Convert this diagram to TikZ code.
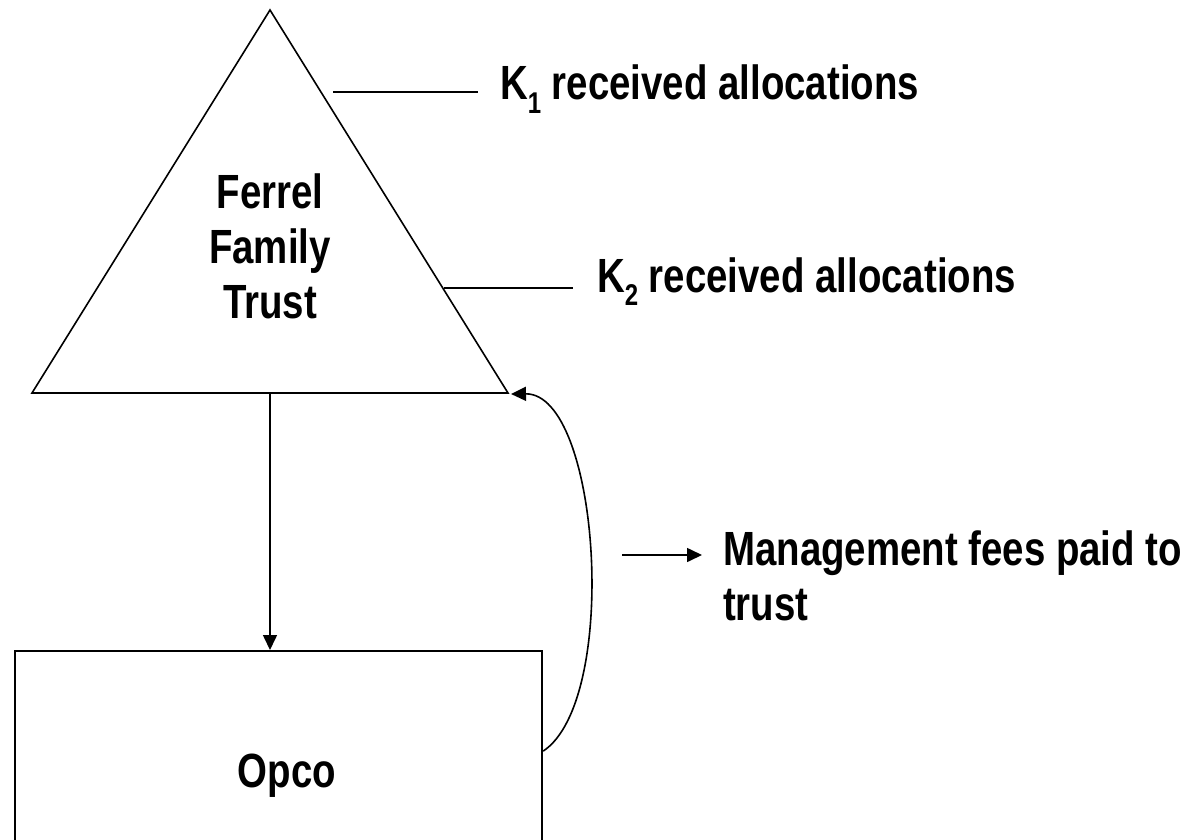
\documentclass[tikz,border=0pt]{standalone}
\usepackage{fontspec}
\setmainfont{Liberation Sans}[FakeStretch=0.8]
\usetikzlibrary{arrows.meta}
\newcommand{\lowsub}[1]{\raisebox{-0.28em}{\fontsize{30}{30}\selectfont #1}}
\begin{document}
\begin{tikzpicture}[x=1pt,y=-1pt,
  thin line/.style={line width=1.6pt},
  frame line/.style={line width=2.2pt},
  tip/.style={-{Triangle[length=15pt,width=14pt]}},
  label text/.style={font=\fontsize{48}{55}\selectfont\bfseries, inner sep=0pt},
  center text/.style={label text, align=center}]
\useasboundingbox (0,0) rectangle (1199,840);
\clip (0,0) rectangle (1199,840);

% trust triangle
\coordinate (apex) at (270,10);
\coordinate (bl) at (32,393);
\coordinate (br) at (508,393);
\coordinate (base) at (270,393);
\draw[thin line, line join=miter] (apex) -- (bl) -- (br) -- cycle;
% anchor=base sits on the last line's baseline
\node[center text, anchor=base] (trust) at (270,318) {Ferrel\\Family\\Trust};

% operating company box (runs past the lower edge)
\node[draw, frame line, minimum width=527pt, minimum height=200pt, anchor=north west,
      inner sep=0pt] (opco) at (14,650) {};
\node[label text, anchor=base] (opcotext) at (287,787) {Opco};

% ownership arrow
\draw[thin line, tip] (base) -- (opco.north -| base);

% management fee loop back to the trust
\coordinate (feetip) at (511,394);
\draw[thin line, tip] (opco.east) .. controls (620,700) and (600,393) .. (feetip);

% K-1 allocation callouts
\coordinate (k1a) at (333,92);
\coordinate (k1b) at (478,92);
\draw[thin line] (k1a) -- (k1b);
\node[label text, anchor=base west] (k1) at (500,100) {K\lowsub{1} received allocations};

\coordinate (k2a) at (444,288);
\coordinate (k2b) at (573,288);
\draw[thin line] (k2a) -- (k2b);
\node[label text, anchor=base west] (k2) at (597,292) {K\lowsub{2} received allocations};

% legend arrow for the fee loop
\coordinate (legA) at (622,555);
\coordinate (legB) at (702,555);
\draw[thin line, tip] (legA) -- (legB);
\node[label text, anchor=base west, align=left] (fees) at (723,620) {Management fees paid to\\trust};
\end{tikzpicture}
\end{document}
